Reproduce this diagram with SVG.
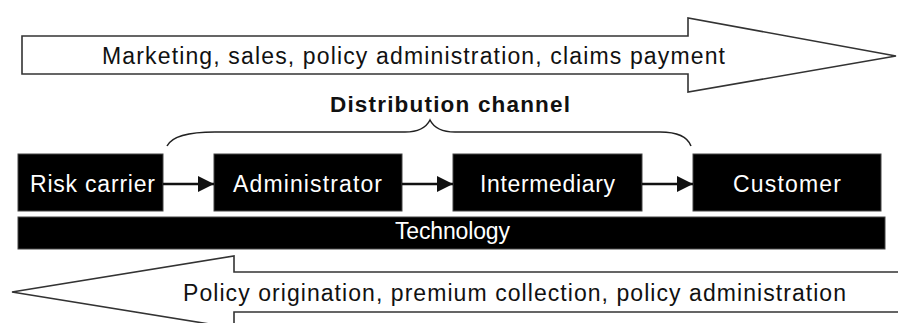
<svg xmlns="http://www.w3.org/2000/svg" width="898" height="323" viewBox="0 0 898 323">
  <style>
    .big { fill: #fff; stroke: #333; stroke-width: 1.6; }
    .box { fill: #000; stroke: #444; stroke-width: 1; }
    .t { font-family: "Liberation Sans", Arial, sans-serif; font-size: 23px; }
    .w { fill: #fff; }
    .k { fill: #111; }
    .b { font-family: "Liberation Sans", Arial, sans-serif; font-size: 22.5px; font-weight: bold; fill: #111; }
    .conn { stroke: #111; stroke-width: 2.5; fill: none; }
    .brace { stroke: #222; stroke-width: 1.5; fill: none; }
  </style>
  <defs>
    <marker id="ah" viewBox="0 0 10 10" refX="10" refY="5" markerWidth="6.4" markerHeight="6.4" orient="auto" markerUnits="strokeWidth">
      <path d="M0,0 L10,5 L0,10 z" fill="#111"/>
    </marker>
  </defs>

  <g id="top-arrow">
    <polygon class="big" points="22,36 688,36 688,18 896,56 688,92 688,74 22,74"/>
    <text class="t k" x="102" y="64" textLength="623">Marketing, sales, policy administration, claims payment</text>
  </g>

  <g id="distribution-channel">
    <text class="b" x="330" y="112" textLength="240">Distribution channel</text>
    <path class="brace" d="M167,146 C172,136 190,132 215,132 L405,132 C420,132 427,126 430,120 C433,126 440,132 455,132 L660,132 C680,132 688,138 691,146"/>
  </g>

  <g id="risk-carrier">
    <rect class="box" x="18" y="154" width="145" height="57"/>
    <text class="t w" x="30" y="192" textLength="125">Risk carrier</text>
  </g>
  <g id="administrator">
    <rect class="box" x="214" y="154" width="188" height="57"/>
    <text class="t w" x="233" y="192" textLength="149">Administrator</text>
  </g>
  <g id="intermediary">
    <rect class="box" x="453" y="154" width="189" height="57"/>
    <text class="t w" x="480" y="192" textLength="135">Intermediary</text>
  </g>
  <g id="customer">
    <rect class="box" x="693" y="154" width="188" height="57"/>
    <text class="t w" x="733" y="192" textLength="108">Customer</text>
  </g>
  <g id="technology">
    <rect class="box" x="18" y="217" width="867" height="32"/>
    <text class="t w" x="395" y="239" textLength="115">Technology</text>
  </g>

  <g id="connectors">
    <line class="conn" x1="163" y1="184" x2="214" y2="184" marker-end="url(#ah)"/>
    <line class="conn" x1="402" y1="184" x2="453" y2="184" marker-end="url(#ah)"/>
    <line class="conn" x1="642" y1="184" x2="693" y2="184" marker-end="url(#ah)"/>
  </g>

  <g id="bottom-arrow">
    <polygon class="big" points="902,272 234,272 234,256 12,292 234,328 234,312 902,312"/>
    <text class="t k" x="183" y="301" textLength="663">Policy origination, premium collection, policy administration</text>
  </g>
</svg>
